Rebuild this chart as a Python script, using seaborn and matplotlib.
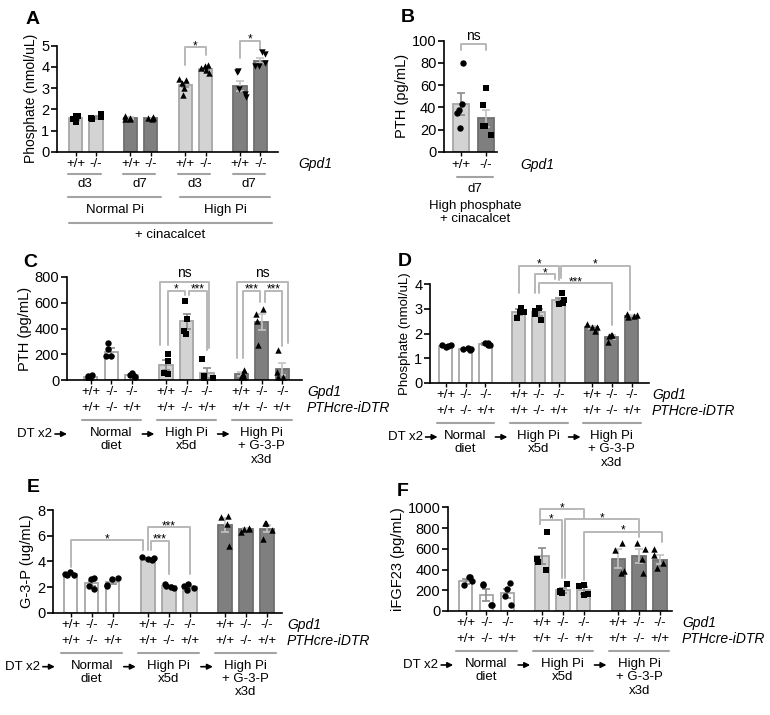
import numpy as np
import matplotlib
matplotlib.use('Agg')
import matplotlib.pyplot as plt
import matplotlib.transforms as mtransforms
import seaborn as sns

# fixed seed so the horizontal jitter of the dots is the same on every run
np.random.seed(3)

# -------------------------------------------------------------
# Data
# -------------------------------------------------------------
# Panel A: phosphate (nmol/uL), four pairs of +/+ and -/-
a_pair_days = ['d3', 'd7', 'd3', 'd7']
a_genotypes = ['+/+', '-/-']
a_means = [[1.58, 1.62], [1.58, 1.58], [3.15, 3.90], [3.10, 4.30]]
a_sems = [[0.07, 0.06], [0.04, 0.03], [0.11, 0.07], [0.22, 0.10]]
a_points = [
    [[1.70, 1.67, 1.55, 1.42], [1.80, 1.62, 1.57, 1.53]],
    [[1.68, 1.60, 1.55, 1.52], [1.63, 1.60, 1.57, 1.55]],
    [[3.45, 3.38, 3.25, 3.00, 2.68], [4.10, 4.03, 3.95, 3.87, 3.71]],
    [[3.79, 3.74, 2.98, 2.74, 2.58], [4.70, 4.60, 4.19, 4.06, 4.03]],
]

# Panel B: PTH (pg/mL)
b_genotypes = ['+/+', '-/-']
b_means = [43, 30]
b_sems = [10, 8]
b_points = [[80, 43, 38, 35, 21], [57, 42, 23, 23, 15]]

# Panels C-F share the genotype layout
gpd1_row = ['+/+', '-/-', '-/-']
pth_row = ['+/+', '-/-', '+/+']
diet_labels = ['Normal\ndiet', 'High Pi\nx5d', 'High Pi\n+ G-3-P\nx3d']

# Panel C: PTH (pg/mL)
c_means = [[25, 220, 35], [115, 455, 55], [45, 450, 85]]
c_sems = [[8, 30, 10], [40, 60, 40], [15, 60, 50]]
c_points = [
    [[40, 30, 15, 10], [285, 240, 190, 185], [55, 40, 30, 20]],
    [[205, 150, 55, 45], [610, 470, 380, 360], [165, 30, 15, 10]],
    [[80, 50, 25, 20], [555, 515, 460, 270], [230, 60, 25, 20]],
]

# Panel D: phosphate (nmol/uL)
d_means = [[1.50, 1.37, 1.57], [2.85, 2.85, 3.35], [2.25, 1.85, 2.72]]
d_sems = [[0.03, 0.03, 0.04], [0.12, 0.14, 0.08], [0.07, 0.09, 0.03]]
d_points = [
    [[1.55, 1.52, 1.48, 1.46], [1.40, 1.38, 1.36, 1.33], [1.62, 1.60, 1.55, 1.52]],
    [[3.05, 2.88, 2.85, 2.62], [3.05, 2.90, 2.78, 2.55], [3.62, 3.35, 3.25, 3.20]],
    [[2.40, 2.28, 2.25, 2.10], [1.95, 1.92, 1.88, 1.65], [2.80, 2.73, 2.70, 2.68]],
]

# Panel E: G-3-P (ug/mL)
e_means = [[3.0, 2.3, 2.4], [4.2, 2.05, 2.0], [6.8, 6.5, 6.55]]
e_sems = [[0.06, 0.2, 0.17], [0.06, 0.08, 0.1], [0.55, 0.08, 0.3]]
e_points = [
    [[3.15, 3.02, 2.95, 2.92], [2.70, 2.60, 2.05, 1.85], [2.70, 2.65, 2.15, 2.10]],
    [[4.30, 4.25, 4.20, 4.10], [2.25, 2.05, 2.00, 1.90], [2.25, 2.05, 1.95, 1.80]],
    [[7.50, 7.45, 6.90, 5.20], [6.60, 6.55, 6.50, 6.30], [7.00, 6.95, 6.45, 5.75]],
]

# Panel F: iFGF23 (pg/mL)
f_means = [[285, 155, 170], [530, 200, 200], [505, 530, 495]]
f_sems = [[25, 55, 45], [80, 25, 35], [90, 65, 45]]
f_points = [
    [[330, 325, 285, 250], [265, 250, 60, 55], [270, 210, 140, 60]],
    [[760, 500, 470, 400], [260, 190, 180, 170], [250, 240, 160, 150]],
    [[660, 590, 390, 370], [660, 600, 500, 370], [600, 540, 460, 410]],
]

# -------------------------------------------------------------
# Style
# -------------------------------------------------------------
W, H = 770, 715
WHITE, LIGHT, DARK = '#ffffff', '#d3d3d3', '#7f7f7f'
EDGE_L, EDGE_D = '#a6a6a6', '#6f6f6f'
ERR_L, ERR_D = '#8a8a8a', '#c4c4c4'
BRACKET = '#b8b8b8'
LINE = '#a3a3a3'
GAP3 = 3.67   # group spacing for panels C-F
GAP2 = 2.7    # pair spacing for panel A
TXT = 9.5     # size of the labels under the axes

sns.set_theme(style='ticks')
plt.rcParams['font.family'] = ['Liberation Sans', 'DejaVu Sans']
plt.rcParams['text.color'] = 'black'

fig = plt.figure(figsize=(W / 100, H / 100), dpi=100, facecolor='white')


def px_axes(l, t, r, b):
    ax = fig.add_axes([l / W, 1 - b / H, (r - l) / W, (b - t) / H])
    ax.set_facecolor('none')
    return ax


def style_axes(ax, xs, xlim, ymax, ystep, ylabel, ylsize=10.5):
    ax.set_xlim(*xlim)
    ax.set_ylim(0, ymax)
    ax.set_yticks(np.arange(0, ymax + ystep / 2, ystep))
    ax.set_xticks(xs)
    ax.set_xticklabels([])
    ax.tick_params(axis='y', direction='out', length=4, width=1.2, labelsize=10.5, pad=1.5, colors='black')
    ax.tick_params(axis='x', direction='out', length=3, width=1.0, colors='black')
    for s in ['top', 'right']:
        ax.spines[s].set_visible(False)
    for s in ['left', 'bottom']:
        ax.spines[s].set_color('black')
        ax.spines[s].set_linewidth(1.2)
    ax.set_xlabel('')
    ax.set_ylabel(ylabel, fontsize=ylsize, labelpad=2, color='black')


def draw_bars(ax, xs, means, sems, pts, fill, edge, marker, ecolor):
    sns.barplot(x=xs, y=means, native_scale=True, orient='x', width=0.65, color=fill,
                saturation=1, edgecolor=edge, linewidth=1.3, errorbar=None, ax=ax, zorder=2)
    ax.errorbar(xs, means, yerr=sems, fmt='none', ecolor=ecolor, elinewidth=1.2,
                capsize=3.2, capthick=1.2, zorder=3)
    sns.stripplot(x=np.repeat(xs, [len(p) for p in pts]), y=np.concatenate(pts),
                  native_scale=True, orient='x', jitter=0.3, marker=marker, color='black',
                  size=4.6, linewidth=0, ax=ax, zorder=4)


def bracket(ax, label, x1, x2, top, leg1, leg2):
    ax.plot([x1, x1, x2, x2], [leg1, top, top, leg2], color=BRACKET, lw=1.4,
            clip_on=False, zorder=1)
    if label == 'ns':
        ax.annotate(label, ((x1 + x2) / 2, top), xytext=(0, 3), textcoords='offset points',
                    ha='center', va='baseline', fontsize=10, annotation_clip=False)
    else:
        ax.annotate(label, ((x1 + x2) / 2, top), xytext=(0, -1.5), textcoords='offset points',
                    ha='center', va='baseline', fontsize=8.5, annotation_clip=False)


def below_text(ax, x, off, s, **kw):
    trans = mtransforms.blended_transform_factory(ax.transData, fig.transFigure)
    kw.setdefault('ha', 'center')
    kw.setdefault('va', 'center')
    kw.setdefault('fontsize', TXT)
    return ax.text(x, ax.get_position().y0 - off / H, s, transform=trans, **kw)


def below_line(ax, x1, x2, off):
    trans = mtransforms.blended_transform_factory(ax.transData, fig.transFigure)
    y = ax.get_position().y0 - off / H
    ax.plot([x1, x2], [y, y], transform=trans, color=LINE, lw=1.5, clip_on=False)


def gene_label(ax, dx, off, s):
    pos = ax.get_position()
    trans = mtransforms.blended_transform_factory(ax.transAxes, fig.transFigure)
    ax.text(1 + dx / (pos.width * W), pos.y0 - off / H, s, transform=trans,
            ha='left', va='center', fontsize=TXT + 0.5, style='italic')


def below_arrow(ax, x, off, length=12):
    trans = mtransforms.blended_transform_factory(ax.transData, fig.transFigure)
    y = ax.get_position().y0 - off / H
    ax.annotate('', xy=(x, y), xycoords=trans, xytext=(-length, 0), textcoords='offset pixels',
                arrowprops=dict(arrowstyle='-|>', color='black', lw=1.2, mutation_scale=8,
                                shrinkA=0, shrinkB=0), annotation_clip=False)


# -------------------------------------------------------------
# Panel A
# -------------------------------------------------------------
axA = px_axes(57, 45.7, 278, 151.7)
a_fills = [LIGHT, DARK, LIGHT, DARK]
a_edges = [EDGE_L, EDGE_D, EDGE_L, EDGE_D]
a_errs = [ERR_L, ERR_D, ERR_L, ERR_D]
a_markers = ['s', '^', '^', 'v']
a_xs = []
for p in range(4):
    xs = [p * GAP2 + i for i in range(2)]
    a_xs += xs
    draw_bars(axA, xs, a_means[p], a_sems[p], a_points[p], a_fills[p], a_edges[p], a_markers[p], a_errs[p])
style_axes(axA, a_xs, (-0.92, 9.97), 5, 1, 'Phosphate (nmol/uL)', 10)
bracket(axA, '*', 2 * GAP2, 2 * GAP2 + 1, 4.92, 4.09, 4.56)
bracket(axA, '*', 3 * GAP2, 3 * GAP2 + 1, 5.24, 4.40, 4.80)
for p in range(4):
    for i in range(2):
        below_text(axA, p * GAP2 + i, 12, a_genotypes[i])
    below_line(axA, p * GAP2 - 0.36, p * GAP2 + 1.23, 22)
    below_text(axA, p * GAP2 + 0.45, 32, a_pair_days[p])
gene_label(axA, 20, 12, 'Gpd1')
below_line(axA, -0.36, GAP2 + 1.5, 45)
below_line(axA, 2 * GAP2 - 0.26, 3 * GAP2 + 1.5, 45)
below_text(axA, (GAP2 + 1.14) / 2, 58, 'Normal Pi')
below_text(axA, (5 * GAP2 + 1.24) / 2, 58, 'High Pi')
below_line(axA, -0.33, 3 * GAP2 + 1.57, 71)
below_text(axA, (3 * GAP2 + 1.24) / 2, 83, '+ cinacalcet')

# -------------------------------------------------------------
# Panel B
# -------------------------------------------------------------
axB = px_axes(444, 40.7, 497, 151.7)
draw_bars(axB, [0], [b_means[0]], [b_sems[0]], [b_points[0]], LIGHT, EDGE_L, 'o', ERR_L)
draw_bars(axB, [1], [b_means[1]], [b_sems[1]], [b_points[1]], DARK, EDGE_D, 's', ERR_D)
style_axes(axB, [0, 1], (-0.68, 1.44), 100, 20, 'PTH (pg/mL)')
bracket(axB, 'ns', 0, 1, 97, 92, 92)
for i in range(2):
    below_text(axB, i, 13, b_genotypes[i])
gene_label(axB, 23, 13, 'Gpd1')
below_line(axB, -0.16, 1.28, 25)
below_text(axB, 0.56, 37, 'd7')
below_text(axB, 0.56, 48, 'High phosphate\n+ cinacalcet', va='top', linespacing=1.15)


# -------------------------------------------------------------
# Panels C-F
# -------------------------------------------------------------
def three_group_panel(rect, means, sems, points, markers, xlim, ymax, ystep, ylabel,
                      brackets, dt_x, gene_dx, ylsize=10.5):
    ax = px_axes(*rect)
    fills = [WHITE, LIGHT, DARK]
    edges = [EDGE_L, EDGE_L, EDGE_D]
    errs = [ERR_L, ERR_L, ERR_D]
    all_xs = []
    for g in range(3):
        xs = [g * GAP3 + i for i in range(3)]
        all_xs += xs
        draw_bars(ax, xs, means[g], sems[g], points[g], fills[g], edges[g], markers[g], errs[g])
    style_axes(ax, all_xs, xlim, ymax, ystep, ylabel, ylsize)
    for b in brackets:
        bracket(ax, *b)
    for g in range(3):
        for i in range(3):
            below_text(ax, g * GAP3 + i, 12, gpd1_row[i])
            below_text(ax, g * GAP3 + i, 28, pth_row[i])
        below_line(ax, g * GAP3 - 0.45, g * GAP3 + 2.45, 40)
        below_text(ax, g * GAP3 + 1, 47, diet_labels[g], va='top', linespacing=1.15)
        if g < 2:
            below_arrow(ax, g * GAP3 + 3.1, 54)
    gene_label(ax, gene_dx, 12, 'Gpd1')
    gene_label(ax, gene_dx, 28, 'PTHcre-iDTR')
    below_arrow(ax, dt_x, 54)
    trans = mtransforms.offset_copy(
        mtransforms.blended_transform_factory(ax.transData, fig.transFigure), fig=fig, x=-15, y=0, units='dots')
    ax.text(dt_x, ax.get_position().y0 - 54 / H, 'DT x2', transform=trans,
            ha='right', va='center', fontsize=TXT)
    return ax


def p3(g, i):
    return g * GAP3 + i


c_brackets = [
    ('ns', p3(1, 0) - 0.3, p3(1, 2) + 0.1, 764, 272, 248),
    ('*', p3(1, 0) + 0.08, p3(1, 1) - 0.06, 694, 272, 660),
    ('***', p3(1, 1) + 0.1, p3(1, 2), 694, 660, 233),
    ('ns', p3(2, 0) - 0.2, p3(2, 2) + 0.3, 764, 171, 287),
    ('***', p3(2, 0) + 0.08, p3(2, 1) - 0.1, 694, 171, 608),
    ('***', p3(2, 1) + 0.17, p3(2, 2), 694, 608, 265),
]
d_brackets = [
    ('*', p3(1, 0), p3(1, 2), 4.74, 3.64, 4.16),
    ('*', p3(1, 1) - 0.2, p3(1, 2) - 0.2, 4.39, 3.64, 4.20),
    ('*', p3(1, 2) + 0.1, p3(2, 2) - 0.09, 4.74, 4.24, 2.95),
    ('***', p3(1, 1), p3(2, 1), 4.03, 3.64, 2.34),
]
e_brackets = [
    ('*', p3(0, 0), p3(1, 0) - 0.24, 5.66, 3.58, 4.88),
    ('***', p3(1, 0), p3(1, 2), 6.65, 4.88, 3.01),
    ('***', p3(1, 0) + 0.16, p3(1, 1), 5.61, 4.88, 3.00),
]
f_brackets = [
    ('*', p3(1, 0) - 0.1, p3(1, 2), 984, 836, 894),
    ('*', p3(1, 0) - 0.1, p3(1, 1) - 0.05, 878, 836, 318),
    ('*', p3(1, 1) + 0.1, p3(2, 1), 887, 318, 716),
    ('*', p3(1, 2), p3(2, 2) + 0.09, 765, 299, 668),
]

three_group_panel((67, 277, 302, 380), c_means, c_sems, c_points, ['o', 's', '^'],
                  (-1.16, 10.3), 800, 200, 'PTH (pg/mL)', c_brackets, -1.16, 5)
three_group_panel((430, 284, 649, 383), d_means, d_sems, d_points, ['o', 's', '^'],
                  (-0.78, 10.2), 4, 1, 'Phosphate (nmol/uL)', d_brackets, -0.4, 3, 9.5)
three_group_panel((53, 510, 282, 612.7), e_means, e_sems, e_points, ['o', 'o', '^'],
                  (-0.84, 10.06), 8, 2, 'G-3-P (ug/mL)', e_brackets, -0.75, 5)
three_group_panel((448, 507.3, 672, 611), f_means, f_sems, f_points, ['o', 's', '^'],
                  (-0.85, 9.92), 1000, 200, 'iFGF23 (pg/mL)', f_brackets, -0.6, 10)

# Panel letters
for letter, x, y in [('A', 33, 20), ('B', 408, 17), ('C', 30, 262),
                     ('D', 405, 261), ('E', 33, 488), ('F', 403, 491)]:
    fig.text(x / W, 1 - y / H, letter, ha='center', va='center', fontsize=14, fontweight='bold')

fig.savefig('out.png', dpi=100, facecolor='white')
